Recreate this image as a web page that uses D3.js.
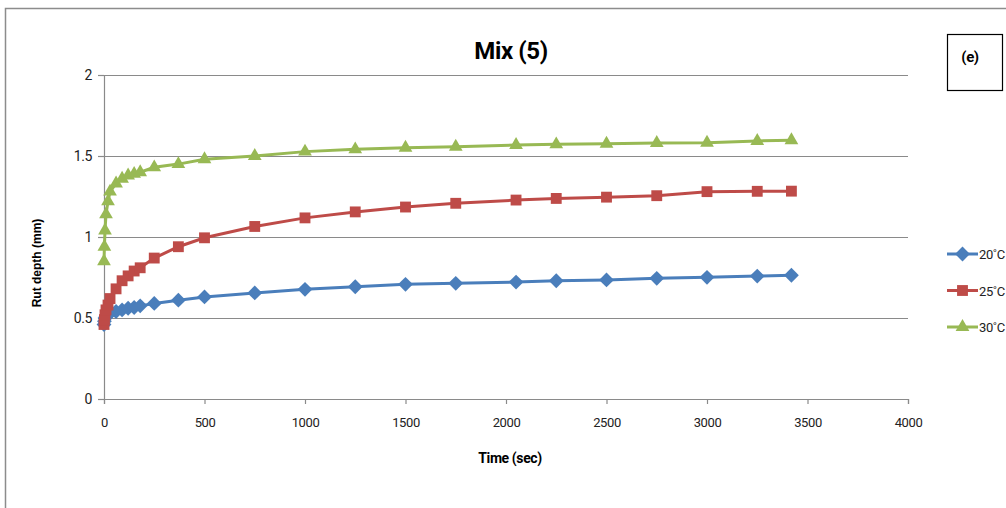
<!DOCTYPE html>
<meta charset="utf-8">
<head>
    <title> Mix (5) rut depth </title>
    <script src="https://d3js.org/d3.v7.min.js"></script>
    <style>
        body { margin: 0; background: #ffffff; }
        .cond { font-family: Roboto, "Liberation Sans", sans-serif; letter-spacing: -0.4px; }
    </style>
</head>
<body>
<div id="my_dataviz"></div>
<script>

// data
var times = [0, 2, 5, 10, 20, 30, 60, 90, 120, 150, 180, 250, 370, 500, 750, 1000, 1250, 1500, 1750, 2050, 2250, 2500, 2750, 3000, 3250, 3420];
var rut20 = [0.46, 0.48, 0.50, 0.51, 0.52, 0.53, 0.54, 0.55, 0.56, 0.565, 0.575, 0.59, 0.61, 0.63, 0.655, 0.677, 0.693, 0.708, 0.714, 0.722, 0.73, 0.735, 0.745, 0.751, 0.759, 0.764];
var rut25 = [0.46, 0.49, 0.52, 0.55, 0.58, 0.62, 0.68, 0.73, 0.76, 0.79, 0.81, 0.87, 0.94, 0.995, 1.065, 1.118, 1.155, 1.185, 1.208, 1.228, 1.238, 1.246, 1.255, 1.28, 1.282, 1.283];
var rut30 = [0.85, 0.94, 1.04, 1.14, 1.22, 1.28, 1.33, 1.36, 1.38, 1.39, 1.40, 1.43, 1.45, 1.48, 1.50, 1.527, 1.541, 1.551, 1.557, 1.568, 1.572, 1.576, 1.58, 1.582, 1.593, 1.597];
var seriesNames = ["20˚C", "25˚C", "30˚C"];
var xTicks = [0, 500, 1000, 1500, 2000, 2500, 3000, 3500, 4000];
var yTicks = [0, 0.5, 1, 1.5, 2];

var colors = ["#4a7ebb", "#be4b48", "#98b954"];
var shapes = [d3.symbolDiamond2, d3.symbolSquare2, d3.symbolTriangle2];
var sizes = [140, 150, 135];

// page and plot area
var W = 1006, H = 508;
var margin = {top: 75, left: 104},
    width = 804,
    height = 324;

var svg0 = d3.select("#my_dataviz")
    .append("svg")
    .attr("width", W)
    .attr("height", H);

// outer chart border
svg0.append("rect")
    .attr("x", 5.5).attr("y", 8.5)
    .attr("width", W + 10).attr("height", H + 10)
    .attr("fill", "#ffffff")
    .attr("stroke", "#8c8c8c")
    .attr("stroke-width", 1.5);

var svg = svg0.append("g")
    .attr("transform", "translate(" + margin.left + "," + margin.top + ")");

var x = d3.scaleLinear().domain([0, 4000]).range([0, width]);
var y = d3.scaleLinear().domain([0, 2]).range([height, 0]);

// gridlines
svg.selectAll(".grid")
    .data(yTicks.filter(function(d) { return d > 0; }))
    .enter().append("line")
    .attr("x1", 0).attr("x2", width)
    .attr("y1", function(d) { return Math.round(y(d)) + 0.5; })
    .attr("y2", function(d) { return Math.round(y(d)) + 0.5; })
    .attr("stroke", "#8a8a8a")
    .attr("stroke-width", 1.2);

// Y axis
var yAxis = svg.append("g")
    .attr("class", "cond")
    .call(d3.axisLeft(y).tickValues(yTicks).tickSize(6).tickPadding(6).tickFormat(d3.format("")));
yAxis.selectAll("text").style("font-size", "14px").attr("fill", "#222");

// X axis
var xAxis = svg.append("g")
    .attr("class", "cond")
    .attr("transform", "translate(0," + height + ")")
    .call(d3.axisBottom(x).tickValues(xTicks).tickSize(5).tickPadding(14).tickFormat(d3.format("")));
xAxis.selectAll("text").style("font-size", "13px").attr("fill", "#222");

svg.selectAll(".domain, .tick line").attr("stroke", "#8a8a8a").attr("stroke-width", 1.2);

// series lines + markers
var allSeries = [rut20, rut25, rut30];
allSeries.forEach(function(vals, i) {
    var pts = times.map(function(t, k) { return {t: t, v: vals[k]}; });
    svg.append("path")
        .datum(pts)
        .attr("fill", "none")
        .attr("stroke", colors[i])
        .attr("stroke-width", 3)
        .attr("d", d3.line()
            .x(function(d) { return x(d.t); })
            .y(function(d) { return y(d.v); }));
    svg.selectAll(".m" + i)
        .data(pts)
        .enter().append("path")
        .attr("transform", function(d) { return "translate(" + x(d.t) + "," + y(d.v) + ")"; })
        .attr("d", d3.symbol().type(shapes[i]).size(sizes[i]))
        .attr("fill", colors[i])
        .attr("stroke", "none");
});

// title
svg0.append("text")
    .attr("class", "cond")
    .attr("x", 511).attr("y", 59)
    .attr("text-anchor", "middle")
    .style("font-size", "24px")
    .style("font-weight", "bold")
    .text("Mix (5)");

// axis titles
svg0.append("text")
    .attr("class", "cond")
    .attr("x", 510).attr("y", 463)
    .attr("text-anchor", "middle")
    .style("font-size", "14px")
    .style("font-weight", "bold")
    .text("Time (sec)");

svg0.append("text")
    .attr("transform", "translate(41,263) rotate(-90)")
    .attr("text-anchor", "middle")
    .style("font-family", "Liberation Sans, Arial, sans-serif")
    .style("font-size", "12px")
    .style("font-weight", "bold")
    .text("Rut depth  (mm)");

// legend
var legend = svg0.selectAll(".legend")
    .data(seriesNames)
    .enter().append("g")
    .attr("transform", function(d, i) { return "translate(947," + (254 + i * 36.5) + ")"; });
legend.append("line")
    .attr("x1", 0).attr("x2", 31)
    .attr("stroke", function(d, i) { return colors[i]; })
    .attr("stroke-width", 3);
legend.append("path")
    .attr("transform", "translate(15.5,0)")
    .attr("d", function(d, i) { return d3.symbol().type(shapes[i]).size(sizes[i])(); })
    .attr("fill", function(d, i) { return colors[i]; });
legend.append("text")
    .attr("class", "cond")
    .attr("x", 32).attr("y", 5)
    .style("font-size", "13px")
    .attr("fill", "#222")
    .text(function(d) { return d; });

// panel label box
svg0.append("rect")
    .attr("x", 947.5).attr("y", 34.5)
    .attr("width", 55).attr("height", 56)
    .attr("fill", "none")
    .attr("stroke", "#000")
    .attr("stroke-width", 1.2);
svg0.append("text")
    .attr("class", "cond")
    .attr("x", 970).attr("y", 62)
    .attr("text-anchor", "middle")
    .style("font-size", "15px")
    .style("font-weight", "bold")
    .text("(e)");

</script>
</body>
</html>
